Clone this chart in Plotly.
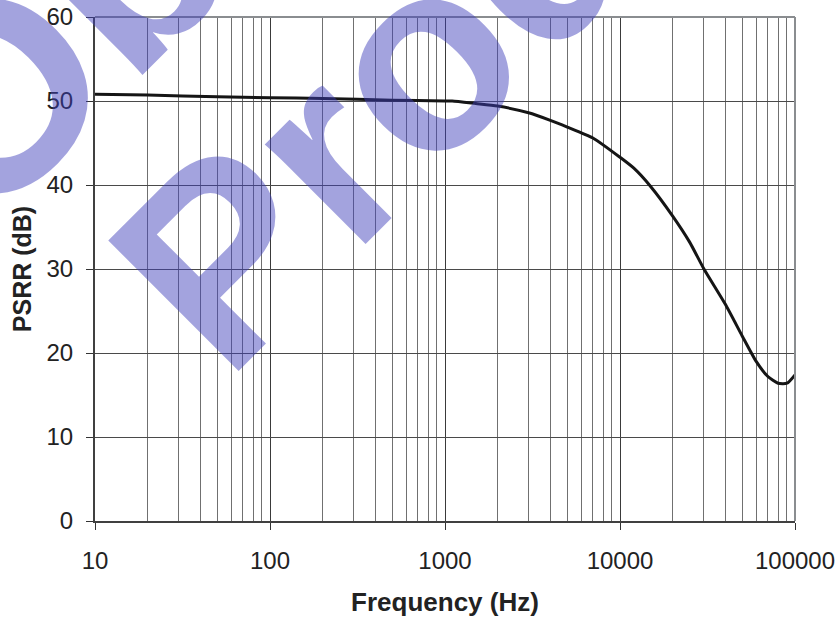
import plotly.graph_objects as go

# Data
freq_hz = [10, 20, 50, 100, 200, 500, 1000, 1100, 1500, 2000, 3000, 4000, 5000,
           7000, 10000, 12000, 15000, 20000, 25000, 30000, 40000, 50000, 60000,
           70000, 80000, 90000, 100000]
psrr_db = [50.8, 50.7, 50.5, 50.4, 50.3, 50.1, 50.0, 50.0, 49.7, 49.4, 48.6, 47.7, 46.9,
           45.6, 43.3, 42.0, 39.8, 36.3, 33.2, 30.1, 25.8, 22.0, 19.0,
           17.2, 16.4, 16.4, 17.4]

x_tick_vals = [10, 100, 1000, 10000, 100000]
x_tick_text = ["10", "100", "1000", "10000", "100000"]
x_minor_vals = [m * d for d in [10, 100, 1000, 10000] for m in range(2, 10)]
y_tick_vals = [0, 10, 20, 30, 40, 50, 60]

watermark_lines = ["Obsolete", "Product"]

W, H = 838, 622
ML, MR, MT, MB = 95, 43, 17, 101
PW, PH = W - ML - MR, H - MT - MB

def px_to_paper(px, py):
    return (px - ML) / PW, (H - MB - py) / PH

fig = go.Figure()
fig.add_trace(go.Scatter(
    x=freq_hz, y=psrr_db, mode="lines",
    line=dict(color="#151515", width=3, shape="spline", smoothing=0.6),
    showlegend=False, hoverinfo="x+y",
))

font_family = "Liberation Sans, Arial, sans-serif"

fig.update_layout(
    width=W, height=H,
    margin=dict(l=ML, r=MR, t=MT, b=MB, autoexpand=False),
    paper_bgcolor="white", plot_bgcolor="white",
    font=dict(family=font_family, color="#222222"),
    xaxis=dict(
        type="log", range=[1, 5], automargin=False,
        tickmode="array", tickvals=x_tick_vals, ticktext=x_tick_text,
        tickfont=dict(size=24, color="#222222"),
        ticks="outside", ticklen=7, tickcolor="#333333", tickwidth=1,
        showgrid=True, gridcolor="#3a3a3a", gridwidth=1,
        minor=dict(tickmode="array", tickvals=x_minor_vals, showgrid=True,
                   gridcolor="#707070", gridwidth=1, ticks=""),
        showline=True, linecolor="#404040", linewidth=2,
        zeroline=False,
        ticklabelstandoff=10,
        title=dict(text="<b>Frequency (Hz)</b>", font=dict(size=26, color="#222222"), standoff=20),
    ),
    yaxis=dict(
        range=[0, 60], tickmode="array", tickvals=y_tick_vals, automargin=False,
        tickfont=dict(size=24, color="#222222"),
        ticks="outside", ticklen=7, tickcolor="#333333", tickwidth=1,
        showgrid=True, gridcolor="#4a4a4a", gridwidth=1,
        showline=True, linecolor="#404040", linewidth=2,
        zeroline=False,
        ticklabelstandoff=8,
        title=dict(text="<b>PSRR (dB)</b>", font=dict(size=25, color="#222222"), standoff=8),
    ),
    shapes=[
        dict(type="line", xref="paper", yref="paper", x0=0, x1=1, y0=1, y1=1,
             line=dict(color="#8a8d90", width=2)),
        dict(type="line", xref="paper", yref="paper", x0=1, x1=1, y0=0, y1=1,
             line=dict(color="#8a8d90", width=2)),
    ],
)

# Watermark (two rotated lines of text)
wm_centers_px = [(322, -236), (518, -40)]
for txt, (cx, cy) in zip(watermark_lines, wm_centers_px):
    ax_, ay_ = px_to_paper(cx, cy)
    fig.add_annotation(
        text="<b>" + txt + "</b>", xref="paper", yref="paper", x=ax_, y=ay_,
        xanchor="center", yanchor="middle", showarrow=False, textangle=-45,
        font=dict(family=font_family, size=268, color="rgba(62,62,186,0.48)"),
    )

fig.write_html(
    "out.html",
    config={"displayModeBar": False},
    post_script="document.body.style.margin='0px';document.body.style.overflow='hidden';",
)
